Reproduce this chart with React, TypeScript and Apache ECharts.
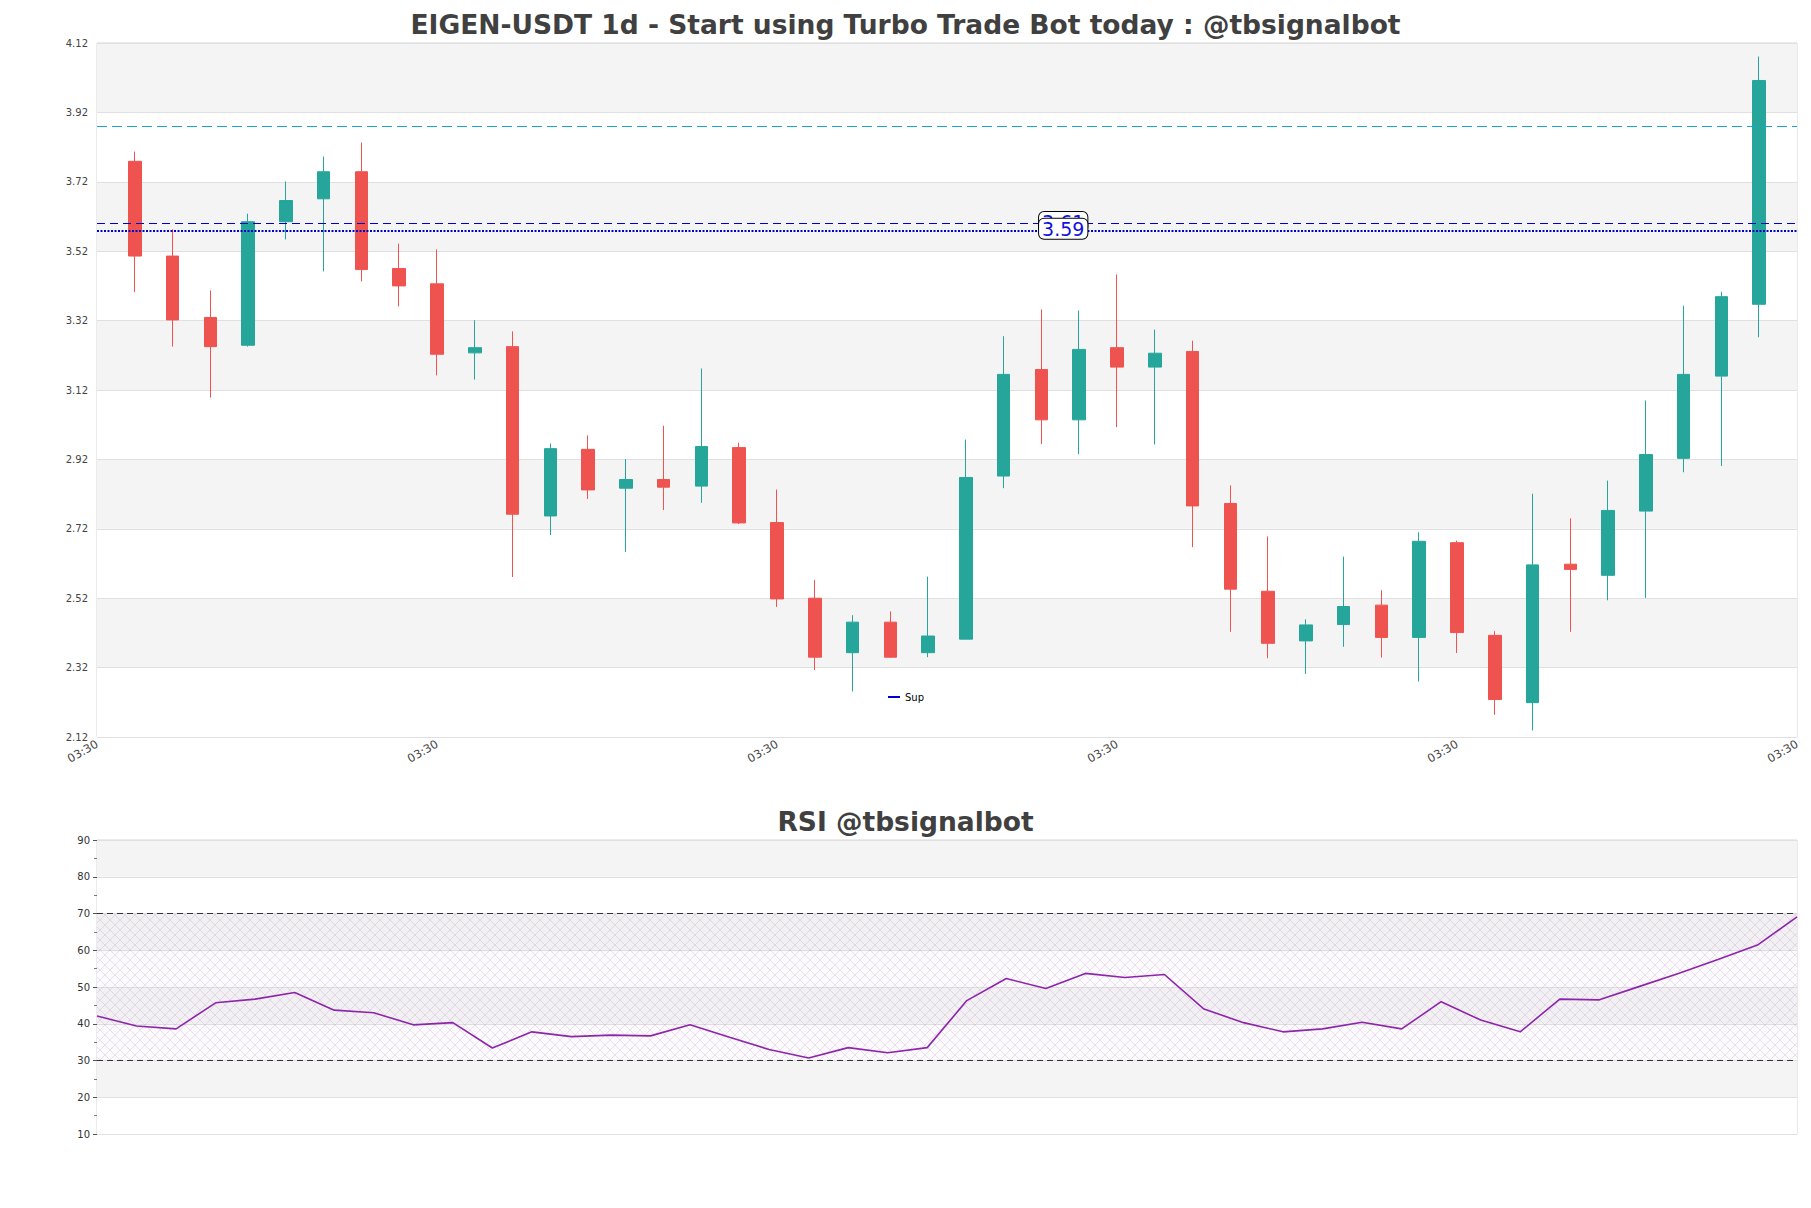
import React, { useEffect, useRef } from 'react';
import * as echarts from 'echarts';

const TITLE = 'EIGEN-USDT 1d - Start using Turbo Trade Bot today : @tbsignalbot';
const RSI_TITLE = 'RSI @tbsignalbot';
const X_TICK_LABEL = '03:30';

// Daily candles (44)
const opens = [3.779, 3.506, 3.329, 3.249, 3.605, 3.671, 3.749, 3.470, 3.426, 3.227, 3.245, 2.757, 2.949, 2.837, 2.862, 2.843, 2.954, 2.738, 2.520, 2.363, 2.451, 2.363, 2.402, 2.872, 3.179, 3.034, 3.242, 3.186, 3.231, 2.793, 2.540, 2.397, 2.444, 2.500, 2.407, 2.680, 2.413, 2.219, 2.618, 2.586, 2.771, 2.923, 3.160, 3.367];
const closes = [3.506, 3.322, 3.245, 3.605, 3.666, 3.749, 3.467, 3.420, 3.223, 3.242, 2.762, 2.951, 2.832, 2.862, 2.840, 2.957, 2.737, 2.518, 2.350, 2.451, 2.350, 2.411, 2.868, 3.165, 3.034, 3.237, 3.186, 3.226, 2.786, 2.546, 2.390, 2.443, 2.496, 2.407, 2.684, 2.421, 2.228, 2.616, 2.603, 2.773, 2.934, 3.165, 3.389, 4.012];
const lows = [3.402, 3.245, 3.098, 3.245, 3.554, 3.462, 3.433, 3.361, 3.162, 3.150, 2.581, 2.702, 2.806, 2.653, 2.774, 2.795, 2.734, 2.495, 2.313, 2.251, 2.348, 2.350, 2.402, 2.837, 2.964, 2.935, 3.013, 2.963, 2.667, 2.423, 2.347, 2.302, 2.380, 2.349, 2.280, 2.362, 2.184, 2.139, 2.423, 2.514, 2.521, 2.883, 2.901, 3.272];
const highs = [3.807, 3.583, 3.407, 3.628, 3.721, 3.793, 3.833, 3.542, 3.525, 3.321, 3.289, 2.966, 2.989, 2.921, 3.017, 3.182, 2.968, 2.833, 2.573, 2.471, 2.482, 2.582, 2.977, 3.275, 3.352, 3.349, 3.453, 3.294, 3.262, 2.845, 2.698, 2.459, 2.640, 2.543, 2.710, 2.686, 2.425, 2.821, 2.750, 2.859, 3.090, 3.363, 3.403, 4.081];

// RSI values (44)
const rsi = [42.1, 39.4, 38.6, 45.7, 46.7, 48.5, 43.7, 43.0, 39.7, 40.3, 33.4, 37.8, 36.5, 36.9, 36.7, 39.7, 36.3, 33.0, 30.7, 33.5, 32.1, 33.5, 46.3, 52.3, 49.6, 53.7, 52.6, 53.4, 44.0, 40.3, 37.8, 38.6, 40.4, 38.6, 46.0, 41.0, 37.8, 46.7, 46.5, 50.1, 53.7, 57.5, 61.4, 69.1];

// Horizontal levels
const levelTop = 3.884;
const levelRes = 3.604;
const levelSup = 3.585;
const levelResLabel = '3.61';
const levelSupLabel = '3.59';
const labelSlot = 26;

const priceTicks = { min: 2.12, max: 4.12, step: 0.2 };
const rsiTicks = { min: 10, max: 90, step: 10 };
const rsiBands = [30, 70];

const FONT = 'DejaVu Sans';

export default function App() {
  const ref = useRef<HTMLDivElement>(null);

  useEffect(() => {
    if (!ref.current) return;
    const chart = echarts.init(ref.current, undefined, { renderer: 'svg' });

    const pc = document.createElement('canvas');
    pc.width = 10;
    pc.height = 10;
    const ctx = pc.getContext('2d');
    if (ctx) {
      ctx.fillStyle = 'rgba(215,195,230,0.08)';
      ctx.fillRect(0, 0, 10, 10);
      ctx.strokeStyle = 'rgba(150,125,170,0.30)';
      ctx.lineWidth = 0.7;
      ctx.beginPath();
      ctx.moveTo(0, 0); ctx.lineTo(10, 10);
      ctx.moveTo(10, 0); ctx.lineTo(0, 10);
      ctx.stroke();
    }

    const mainCats = Array.from({ length: opens.length + 2 }, (_, i) => String(i));
    const rsiCats = rsi.map((_, i) => String(i));
    const candleData = opens.map((o, i) => [i + 1, o, closes[i], lows[i], highs[i]]);

    const boxLabel = (text: string) => ({
      show: true,
      formatter: text,
      position: 'inside',
      offset: [-16, 0],
      color: '#1010e0',
      fontSize: 19,
      fontFamily: FONT,
      backgroundColor: '#ffffff',
      borderColor: '#000000',
      borderWidth: 1,
      borderRadius: 5,
      padding: [0, 3, 0, 3],
      lineHeight: 20,
    });

    const option: any = {
      animation: false,
      backgroundColor: '#ffffff',
      textStyle: { fontFamily: FONT },
      title: [
        { text: TITLE, left: 'center', top: 6, textStyle: { fontSize: 26.5, fontWeight: 'bold', color: '#404040', fontFamily: FONT } },
        { text: RSI_TITLE, left: 'center', top: 803, textStyle: { fontSize: 26.5, fontWeight: 'bold', color: '#404040', fontFamily: FONT } },
      ],
      legend: {
        data: [{ name: 'Sup', icon: 'rect' }],
        left: 883,
        top: 687,
        itemWidth: 12,
        itemHeight: 2,
        itemGap: 6,
        textStyle: { fontSize: 10, color: '#000', fontFamily: FONT },
      },
      grid: [
        { left: 97, top: 43, width: 1700, height: 694, show: true, borderColor: '#d6d6d6', borderWidth: 1, backgroundColor: 'transparent' },
        { left: 97, top: 840, width: 1700, height: 294, show: true, borderColor: '#d6d6d6', borderWidth: 1, backgroundColor: 'transparent' },
      ],
      xAxis: [
        {
          type: 'category', gridIndex: 0, data: mainCats, boundaryGap: false,
          axisLine: { show: false },
          axisTick: { show: false },
          axisLabel: { interval: 8, rotate: 30, formatter: () => X_TICK_LABEL, fontSize: 11.5, color: '#444', margin: 6, fontFamily: FONT },
          splitLine: { show: false },
        },
        {
          type: 'category', gridIndex: 1, data: rsiCats, boundaryGap: false,
          axisLine: { show: false }, axisTick: { show: false }, axisLabel: { show: false }, splitLine: { show: false },
        },
      ],
      yAxis: [
        {
          type: 'value', gridIndex: 0, min: priceTicks.min, max: priceTicks.max, interval: priceTicks.step,
          axisLine: { show: false }, axisTick: { show: false },
          axisLabel: { formatter: (v: number) => v.toFixed(2), fontSize: 10, color: '#444', margin: 9, fontFamily: FONT },
          splitLine: { show: true, lineStyle: { color: '#e0e0e0', width: 1 } },
          splitArea: { show: true, areaStyle: { color: ['#ffffff', '#f4f4f4'] } },
        },
        {
          type: 'value', gridIndex: 1, min: rsiTicks.min, max: rsiTicks.max, interval: rsiTicks.step,
          axisLine: { show: false },
          axisTick: { show: true, length: 4, lineStyle: { color: '#555' } },
          minorTick: { show: true, splitNumber: 2, length: 3, lineStyle: { color: '#777' } },
          axisLabel: { fontSize: 10, color: '#333', margin: 7, fontFamily: FONT },
          splitLine: { show: true, lineStyle: { color: '#e0e0e0', width: 1 } },
          splitArea: { show: true, areaStyle: { color: ['#ffffff', '#f4f4f4'] } },
        },
      ],
      series: [
        {
          type: 'candlestick', name: 'EIGEN-USDT', xAxisIndex: 0, yAxisIndex: 0,
          data: candleData,
          encode: { x: 0, y: [1, 2, 3, 4] },
          barWidth: 13,
          itemStyle: { color: '#26a69a', color0: '#ef5350', borderColor: '#26a69a', borderColor0: '#ef5350', borderWidth: 1 },
          markLine: {
            silent: true, symbol: 'none', label: { show: false },
            data: [
              { yAxis: levelTop, lineStyle: { color: '#17a5d6', type: [10, 5], width: 1 } },
              { yAxis: levelRes, lineStyle: { color: '#0000cc', type: [8, 5], width: 1 } },
            ],
          },
          markPoint: {
            silent: true,
            symbol: 'rect',
            symbolSize: 0,
            data: [
              { coord: [labelSlot, levelRes], label: boxLabel(levelResLabel) },
              { coord: [labelSlot, levelSup], label: boxLabel(levelSupLabel) },
            ],
          },
        },
        {
          type: 'line', name: 'Sup', xAxisIndex: 0, yAxisIndex: 0, data: [],
          itemStyle: { color: '#0000cc' }, lineStyle: { color: '#0000cc' },
          markLine: {
            silent: true, symbol: 'none', label: { show: false },
            data: [{ yAxis: levelSup, lineStyle: { color: '#0000cc', type: [2, 1.5], width: 2 } }],
          },
        },
        {
          type: 'line', name: 'RSI', xAxisIndex: 1, yAxisIndex: 1, data: rsi,
          symbol: 'none', lineStyle: { color: '#8e24aa', width: 1.6 }, itemStyle: { color: '#8e24aa' },
          markLine: {
            silent: true, symbol: 'none', label: { show: false },
            lineStyle: { color: '#333', type: [6, 4], width: 1 },
            data: [{ yAxis: rsiBands[1] }, { yAxis: rsiBands[0] }],
          },
          markArea: {
            silent: true,
            itemStyle: { color: { image: pc, repeat: 'repeat' } },
            data: [[{ yAxis: rsiBands[0] }, { yAxis: rsiBands[1] }]],
          },
        },
      ],
    };

    chart.setOption(option);
    return () => chart.dispose();
  }, []);

  return <div ref={ref} style={{ position: 'fixed', left: 0, top: 0, width: 1811, height: 1208 }} />;
}
